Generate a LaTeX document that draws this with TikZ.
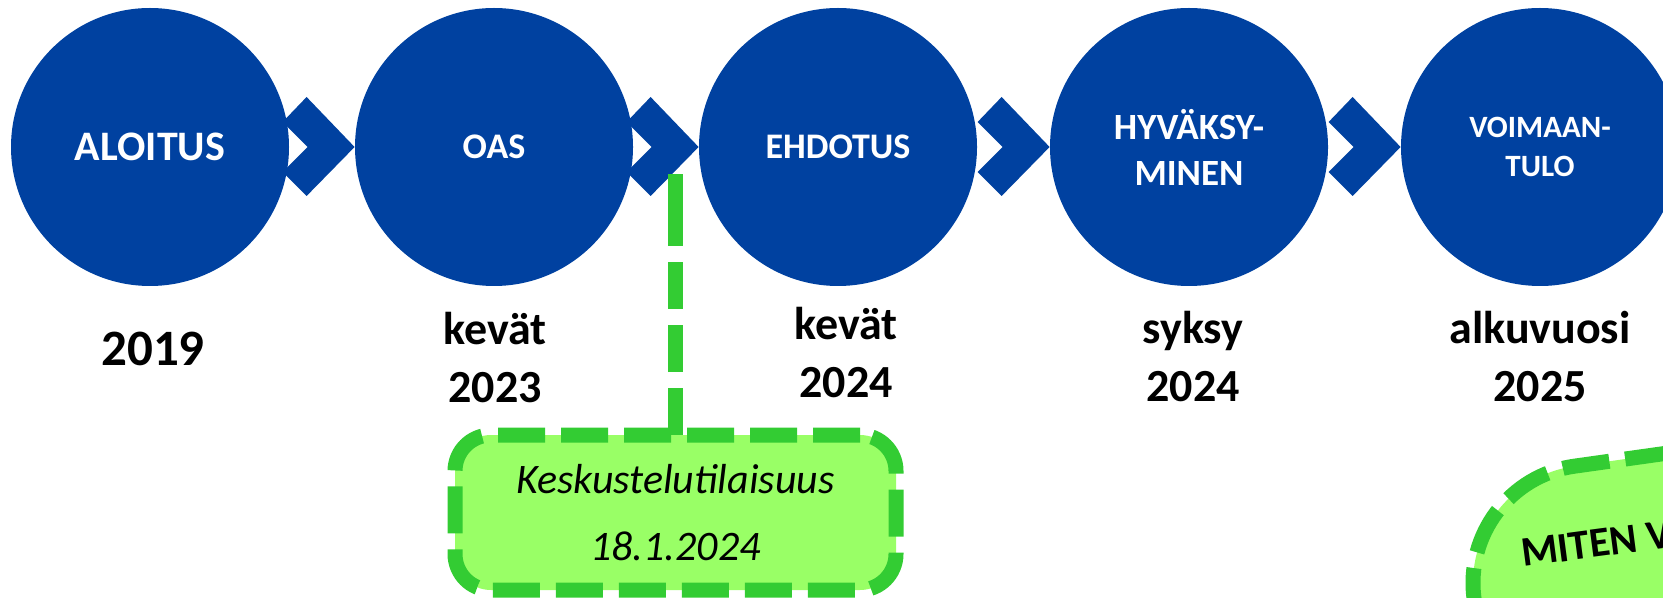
\documentclass[tikz,border=0pt]{standalone}
\usepackage{fontspec}
\setmainfont{Carlito}
\usepackage{xcolor}
\usetikzlibrary{calc}
\definecolor{sininen}{RGB}{0,65,160}
\definecolor{vihrea}{RGB}{51,204,51}
\definecolor{vaaleanvihrea}{RGB}{153,255,102}

\begin{document}
\begin{tikzpicture}[
  x=0.5pt, y=-0.5pt,
  vaihe/.style={circle, fill=sininen, minimum size=139pt, inner sep=0pt, text=white, align=center},
  nuoli/.style={fill=sininen},
  ajankohta/.style={anchor=south, inner sep=0pt, align=center, font=\fontsize{23}{29}\selectfont\bfseries},
  tilaisuus/.style={rectangle, rounded corners=18pt, draw=vihrea, fill=vaaleanvihrea, line width=7.5pt, dash pattern=on 23.5pt off 8pt, minimum width=220.5pt, minimum height=77.5pt, outer sep=0pt, align=center, font=\fontsize{21}{33.5}\selectfont\itshape},
  yhteys/.style={draw=vihrea, line width=7.5pt, dash pattern=on 23.5pt off 8pt on 23.5pt off 8pt on 23.5pt off 8pt on 40pt off 8pt},
  node distance=172pt
]
\useasboundingbox (0,0) rectangle (1663,598);
\clip (0,0) rectangle (1663,598);

% vaiheet
\node[vaihe, font=\fontsize{21}{25}\selectfont\bfseries] (aloitus) at (150,147) {ALOITUS};
\node[vaihe, right of=aloitus, font=\fontsize{18}{22}\selectfont\bfseries] (oas) {OAS};
\node[vaihe, right of=oas, font=\fontsize{18}{22}\selectfont\bfseries] (ehdotus) {EHDOTUS};
\node[vaihe, right of=ehdotus, node distance=175.5pt, font=\fontsize{18.5}{23}\selectfont\bfseries] (hyvaksyminen) {HYVÄKSY-\\MINEN};
\node[vaihe, right of=hyvaksyminen, node distance=175.5pt, font=\fontsize{15.5}{19.5}\selectfont\bfseries] (voimaantulo) {VOIMAAN-\\TULO};

% nuolet
\foreach \seur in {oas,ehdotus,hyvaksyminen,voimaantulo}
  \fill[nuoli] (\seur.west) -- ++(-48,-50) -- ++(-24,25) -- ++(25,25) -- ++(-25,25) -- ++(24,24) -- cycle;

% ajankohdat
\node[ajankohta, font=\fontsize{25.5}{30}\selectfont\bfseries] (v2019) at (153,366) {2019};
\node[ajankohta] (v2023) at (495,403) {kevät\\2023};
\node[ajankohta] (v2024k) at (846,398) {kevät\\2024};
\node[ajankohta] (v2024s) at (1193,402) {syksy\\2024};
\node[ajankohta] (v2025) at (1540,402) {alkuvuosi\\2025};

% keskustelutilaisuus
\node[tilaisuus] (keskustelu) at (675.5,512.5) {Keskustelutilaisuus\\18.1.2024};
\coordinate (kohta) at (675.5,174);
\draw[yhteys] (keskustelu.north) -- (kohta);

% miten
\draw[draw=vihrea, fill=vaaleanvihrea, line width=7.5pt, dash pattern=on 23.5pt off 8pt, rounded corners=59pt, rotate around={8:(1591,583)}] (1473,465) rectangle (2100,900);
\node[anchor=base west, rotate=7.5, inner sep=0pt, font=\fontsize{21}{25}\selectfont\bfseries] (miten) at (1523,567) {MITEN V};
\end{tikzpicture}
\end{document}
